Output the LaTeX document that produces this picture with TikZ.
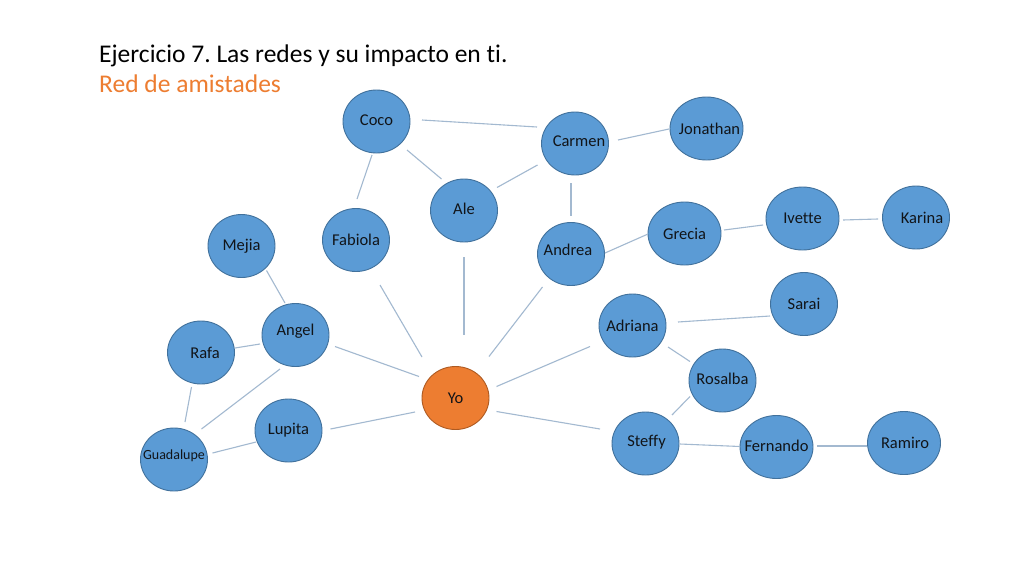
\documentclass[tikz,border=0pt]{standalone}
\usepackage{fontspec}
\setmainfont{Carlito}[Ligatures=NoCommon]
\usetikzlibrary{shapes.geometric,calc}
\definecolor{nodeblue}{HTML}{5B9BD5}
\definecolor{nodeedge}{HTML}{41719C}
\definecolor{orangefill}{HTML}{ED7D31}
\definecolor{orangeedge}{HTML}{AE5A21}
\definecolor{linkcol}{HTML}{A3B9D0}
\definecolor{txt}{HTML}{111418}
\tikzset{
  friend/.style={ellipse, draw=nodeedge, fill=nodeblue, line width=0.9pt,
    minimum width=67pt, minimum height=63pt, inner sep=0pt},
  wide/.style={minimum width=73pt},
  me/.style={friend, draw=orangeedge, fill=orangefill},
  nametext/.style={inner sep=0pt, text=txt, font=\fontsize{16.5}{18}\selectfont},
  smallname/.style={nametext, font=\fontsize{14}{16}\selectfont},
  link/.style={draw=linkcol, line width=1.1pt},
  titletext/.style={anchor=base west, inner sep=0pt, font=\fontsize{25.5}{30}\selectfont}
}
\frenchspacing
\begin{document}
\begin{tikzpicture}[x=1pt,y=-1pt]
\useasboundingbox (0,0) rectangle (1024,576);
\fill[white] (0,0) rectangle (1024,576);

\node[titletext, text=black] (title1) at (99,62) {Ejercicio 7. Las redes y su impacto en ti.};
\node[titletext, text=orangefill] (title2) at (99,92) {Red de amistades};

\node[friend, label={[nametext,yshift=1pt]center:Coco}] (coco) at (376.5,121.5) {};
\node[friend, label={[nametext,yshift=2pt]center:Ale}] (ale) at (464,210.5) {};
\node[friend, label={[nametext]center:Fabiola}] (fabiola) at (356,240) {};
\node[friend, label={[nametext]center:Mejia}] (mejia) at (241.5,246) {};
\node[friend, label={[nametext,xshift=4pt,yshift=2pt]center:Carmen}] (carmen) at (575,143.5) {};
\node[friend,wide, label={[nametext,xshift=3pt]center:Jonathan}] (jonathan) at (706.5,128.5) {};
\node[friend, label={[nametext,xshift=-3pt,yshift=4pt]center:Andrea}] (andrea) at (571,254) {};
\node[friend,wide, label={[nametext]center:Grecia}] (grecia) at (684.5,233.5) {};
\node[friend,wide, label={[nametext]center:Ivette}] (ivette) at (802.5,218.5) {};
\node[friend, label={[nametext,xshift=6pt]center:Karina}] (karina) at (916,217.5) {};
\node[friend, label={[nametext,yshift=4pt]center:Angel}] (angel) at (295.5,335) {};
\node[friend, label={[nametext,xshift=4pt]center:Rafa}] (rafa) at (201,352.5) {};
\node[friend, label={[smallname,yshift=4pt]center:Guadalupe}] (guadalupe) at (174,459.5) {};
\node[friend, label={[nametext]center:Lupita}] (lupita) at (288.5,430.5) {};
\node[me, label={[nametext]center:Yo}] (yo) at (455.5,398) {};
\node[friend, label={[nametext]center:Adriana}] (adriana) at (632.5,325.5) {};
\node[friend, label={[nametext]center:Sarai}] (sarai) at (804,304) {};
\node[friend, label={[nametext,yshift=2pt]center:Rosalba}] (rosalba) at (722.5,380.5) {};
\node[friend, label={[nametext,xshift=1pt,yshift=1pt]center:Steffy}] (steffy) at (645.5,443.5) {};
\node[friend,wide, label={[nametext,yshift=1pt]center:Fernando}] (fernando) at (776.5,447) {};
\node[friend,wide, label={[nametext,xshift=1pt]center:Ramiro}] (ramiro) at (904,443) {};

\draw[link] ($(coco)+(45.5,-1.5)$) -- ($(carmen)+(-38,-16.5)$);
\draw[link] ($(coco)+(30.5,28.5)$) -- ($(ale)+(-22.5,-31.5)$);
\draw[link] ($(coco)+(-4.5,33.5)$) -- ($(fabiola)+(1,-41)$);
\draw[link] ($(ale)+(33,-23)$) -- ($(carmen)+(-37.5,21.5)$);
\draw[link] ($(carmen)+(43,-3.5)$) -- ($(jonathan)+(-37.5,0.5)$);
\draw[link] ($(carmen)+(-4,39.5)$) -- ($(andrea)+(0,-38)$);
\draw[link] ($(andrea)+(34,-1)$) -- ($(grecia)+(-36.5,0.5)$);
\draw[link] ($(grecia)+(39.5,-3.5)$) -- ($(ivette)+(-39.5,6.5)$);
\draw[link] ($(ivette)+(40.5,1.5)$) -- ($(karina)+(-38,1.5)$);
\draw[link] ($(mejia)+(25,24.5)$) -- ($(angel)+(-10.5,-32)$);
\draw[link] ($(fabiola)+(24,45)$) -- ($(yo)+(-33.5,-41)$);
\draw[link] ($(ale)+(0,46.5)$) -- ($(yo)+(8.5,-63)$);
\draw[link] ($(andrea)+(-28.5,33)$) -- ($(yo)+(33.5,-41.5)$);
\draw[link] ($(angel)+(-35.5,9)$) -- ($(rafa)+(34,-4.5)$);
\draw[link] ($(angel)+(39.5,11.5)$) -- ($(yo)+(-36.5,-21.5)$);
\draw[link] ($(angel)+(-15.5,34)$) -- ($(guadalupe)+(27.5,-30.5)$);
\draw[link] ($(rafa)+(-9.5,34.5)$) -- ($(guadalupe)+(11,-37.5)$);
\draw[link] ($(lupita)+(-32.5,11.5)$) -- ($(guadalupe)+(38.5,-6.5)$);
\draw[link] ($(lupita)+(42,-1.5)$) -- ($(yo)+(-40.5,14)$);
\draw[link] ($(yo)+(41,-11.5)$) -- ($(adriana)+(-42.5,21)$);
\draw[link] ($(yo)+(41,13.5)$) -- ($(steffy)+(-45.5,-14.5)$);
\draw[link] ($(adriana)+(45.5,-3.5)$) -- ($(sarai)+(-34,12)$);
\draw[link] ($(adriana)+(35.5,21.5)$) -- ($(rosalba)+(-32.5,-19)$);
\draw[link] ($(rosalba)+(-32.5,16)$) -- ($(steffy)+(26.5,-28.5)$);
\draw[link] ($(steffy)+(34.5,0.5)$) -- ($(fernando)+(-36.5,-0.5)$);
\draw[link] ($(fernando)+(40.5,-1)$) -- ($(ramiro)+(-37,3)$);
\end{tikzpicture}
\end{document}
